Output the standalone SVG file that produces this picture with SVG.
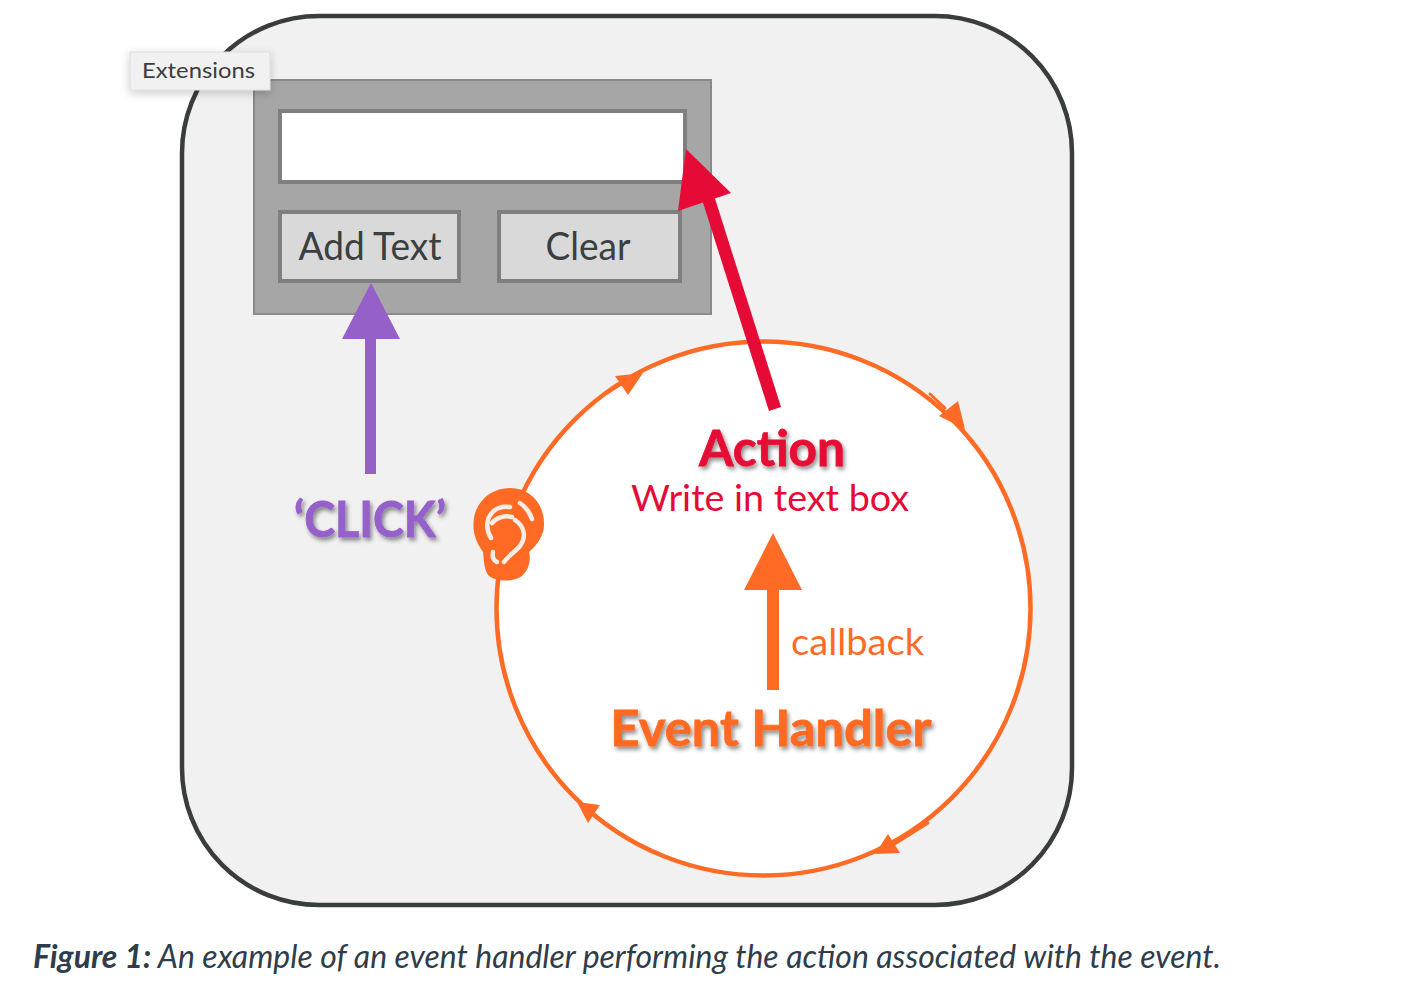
<svg xmlns="http://www.w3.org/2000/svg" width="1414" height="1006" viewBox="0 0 1414 1006">
  <style>
    .ui { font-family: Lato, "Noto Sans", sans-serif; }
    .btn { fill: #d9d9d9; stroke: #7f7f7f; stroke-width: 4; }
    .btn-label { font-size: 38px; fill: #3a3f42; text-anchor: middle; }
    .ring { fill: #fff; stroke: #ff6b24; stroke-width: 4.5; }
    .tick { fill: #ff6b24; }
    .tail { fill: none; stroke: #ff6b24; stroke-width: 3; stroke-linecap: round; }
    .heading { font-weight: 700; filter: url(#soft-shadow); text-anchor: middle; stroke-width: 0.8; }
  </style>
  <defs>
    <filter id="soft-shadow" x="-10%" y="-20%" width="125%" height="150%">
      <feDropShadow dx="2" dy="3" stdDeviation="2" flood-color="#000" flood-opacity="0.45"/>
    </filter>
    <filter id="tip-shadow" x="-20%" y="-40%" width="140%" height="200%">
      <feDropShadow dx="0" dy="3" stdDeviation="5" flood-color="#000" flood-opacity="0.2"/>
    </filter>
  </defs>

  <rect width="1414" height="1006" fill="#fff"/>

  <g id="extension-area">
    <rect x="182" y="16" width="890" height="889" rx="137" fill="#f1f1f1" stroke="#3a3d3d" stroke-width="4.5"/>
  </g>

  <g id="panel">
    <rect x="254" y="80" width="457" height="234" fill="#a6a6a6" stroke="#8a8a8a" stroke-width="2"/>
  </g>
  <g id="text-box">
    <rect x="280" y="111" width="405" height="71" fill="#fff" stroke="#7f7f7f" stroke-width="4"/>
  </g>
  <g id="add-text-button">
    <rect class="btn" x="280" y="212" width="179" height="69"/>
    <text class="ui btn-label" x="370" y="260" textLength="143" lengthAdjust="spacingAndGlyphs">Add Text</text>
  </g>
  <g id="clear-button">
    <rect class="btn" x="499" y="212" width="181" height="69"/>
    <text class="ui btn-label" x="588" y="260" textLength="85" lengthAdjust="spacingAndGlyphs">Clear</text>
  </g>

  <g id="event-loop">
    <circle cx="763.5" cy="608.5" r="267" class="ring"/>
  </g>

  <g id="connectors">
    <g id="loop-arrowheads">
      <path class="tail" d="M607,393 L623,383"/>
      <path class="tail" d="M930,394 L945,408"/>
      <path class="tail" d="M928,823 L893,845"/>
      <polygon class="tick" points="643,373 615,376 628,395"/>
      <polygon class="tick" points="965,429 939,416 958,401"/>
      <polygon class="tick" points="577,802 600,805 588,823"/>
      <polygon class="tick" points="875,854 888,834 900,853"/>
    </g>
    <g id="click-arrow">
      <rect x="365" y="335" width="11" height="139" fill="#9561c9"/>
      <polygon points="371,283 342,339 400,339" fill="#9561c9"/>
    </g>
    <g id="action-arrow">
      <polygon points="699,190 711,186 781,407 769,411" fill="#e60b36"/>
      <polygon points="686,149 678,211 731,193" fill="#e60b36"/>
    </g>
    <g id="callback-arrow">
      <rect x="767" y="585" width="12" height="105" fill="#ff6b24"/>
      <polygon points="773,533 744,590 802,590" fill="#ff6b24"/>
    </g>
  </g>

  <g id="click-label">
    <text class="ui heading" x="370" y="537" font-size="50" fill="#9561c9" stroke="#9561c9" textLength="152" lengthAdjust="spacingAndGlyphs">‘CLICK’</text>
  </g>

  <g id="listener-ear">
    <path fill="#ff6b24" d="M510,488 C531,488 545,505 544,526 C543,536 538,544 529,552 C531,560 529,570 522,576 C514,582 497,582 489,576 C484,571 484,560 483,552 C475,541 472,530 474,518 C477,500 492,488 510,488 Z"/>
    <g fill="none" stroke="#f7ede6" stroke-width="4.5" stroke-linecap="round">
      <path d="M491,538 C486,530 486,520 491,514 C496,507 503,506 510,507"/>
      <path d="M520,503 C526,507 530,513 532,519"/>
      <path d="M492,523 C496,518 504,515 512,517"/>
      <path d="M515,520 C524,526 527,536 520,546 C515,552 509,555 504,562"/>
      <path d="M493,552 C492,556 493,560 497,562"/>
    </g>
  </g>

  <g id="action-label">
    <text class="ui heading" x="772" y="466" font-size="50" fill="#e60b36" stroke="#e60b36" textLength="146" lengthAdjust="spacingAndGlyphs">Action</text>
    <text class="ui" x="770" y="511" font-size="37" fill="#e60b36" text-anchor="middle" textLength="278" lengthAdjust="spacingAndGlyphs">Write in text box</text>
  </g>

  <g id="callback-label">
    <text class="ui" x="791" y="655" font-size="37" fill="#ff6b24" textLength="133" lengthAdjust="spacingAndGlyphs">callback</text>
  </g>

  <g id="handler-label">
    <text class="ui heading" x="771" y="746" font-size="50" fill="#ff6b24" stroke="#ff6b24" textLength="321" lengthAdjust="spacingAndGlyphs">Event Handler</text>
  </g>

  <g id="extensions-tooltip">
    <rect x="130" y="52" width="140" height="38" fill="#f1f1f1" stroke="#dcdcdc" stroke-width="1" filter="url(#tip-shadow)"/>
    <text x="198.500" y="78" font-family="Lato, 'Noto Sans', sans-serif" font-size="22" fill="#3c3c3c" text-anchor="middle" textLength="113" lengthAdjust="spacingAndGlyphs">Extensions</text>
  </g>

  <g id="caption">
    <text class="ui" x="33" y="968" font-size="32" fill="#2f3d4a" font-style="italic" textLength="1188" lengthAdjust="spacingAndGlyphs"><tspan font-weight="700">Figure 1:</tspan> An example of an event handler performing the action associated with the event.</text>
  </g>
</svg>
